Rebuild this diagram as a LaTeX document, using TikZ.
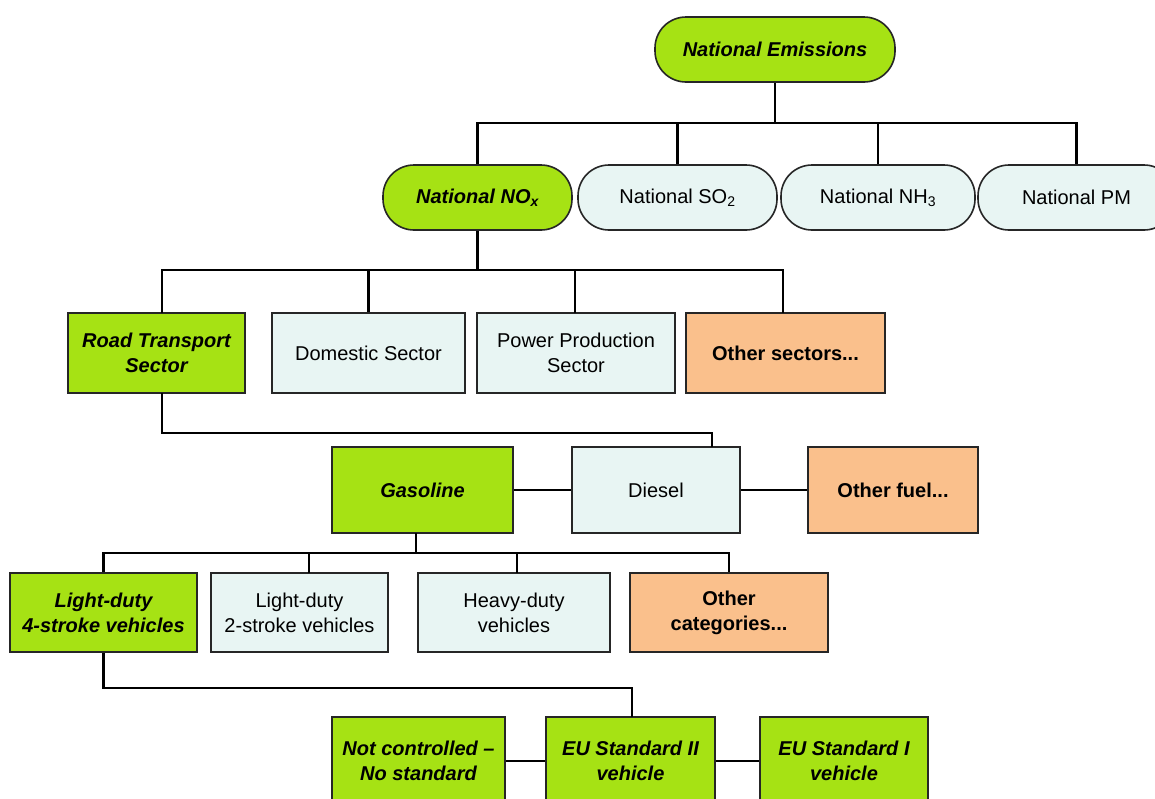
\documentclass[tikz,border=0pt]{standalone}
\usepackage{fontspec}
\setmainfont{Liberation Sans}
\definecolor{gr}{RGB}{166,226,20}
\definecolor{lb}{RGB}{232,245,243}
\definecolor{og}{RGB}{250,192,140}
\begin{document}
\begin{tikzpicture}[x=1pt,y=-1pt,
  base/.style={draw=black!85,line width=1.6pt,align=center,inner sep=0pt,
    font=\fontsize{20}{25}\selectfont,text=black},
  pill/.style={base,rounded corners=31pt,minimum height=65pt},
  rbox/.style={base,minimum height=80pt},
  gbox/.style={fill=gr,font=\fontsize{20}{25}\selectfont\bfseries\itshape},
  lbox/.style={fill=lb},
  obox/.style={fill=og,font=\fontsize{20}{25}\selectfont\bfseries},
  conn/.style={line width=2.4pt,black}]
\clip (0,0) rectangle (1155,798);
\fill[white] (0,0) rectangle (1155,798);
% row 1
\node[pill,gbox,minimum width=240pt] (ne) at (775,49.5) {National Emissions};
% row 2
\node[pill,gbox,minimum width=189pt] (nox) at (477.5,197.5) {National NO\textsubscript{\itshape x}};
\node[pill,lbox,minimum width=199pt] (so2) at (677.5,197.5) {National SO\textsubscript{2}};
\node[pill,lbox,minimum width=194pt] (nh3) at (878,197.5) {National NH\textsubscript{3}};
\node[pill,lbox,minimum width=197pt] (pm) at (1076.5,197.5) {National PM};
% row 3
\node[rbox,gbox,minimum width=177pt] (road) at (156.5,353) {Road Transport\\Sector};
\node[rbox,lbox,minimum width=193pt] (dom) at (368.5,353) {Domestic Sector};
\node[rbox,lbox,minimum width=198pt] (pow) at (576,353) {Power Production\\Sector};
\node[rbox,obox,minimum width=199pt] (oths) at (785.5,353) {Other sectors...};
% row 4
\node[rbox,gbox,minimum width=181pt,minimum height=86pt] (gas) at (422.5,490) {Gasoline};
\node[rbox,lbox,minimum width=168pt,minimum height=86pt] (dies) at (656,490) {Diesel};
\node[rbox,obox,minimum width=170pt,minimum height=86pt] (othf) at (893,490) {Other fuel...};
% row 5
\node[rbox,gbox,minimum width=187pt,minimum height=79pt] (ld4) at (103.5,612.5) {Light-duty\\4-stroke vehicles};
\node[rbox,lbox,minimum width=177pt,minimum height=79pt] (ld2) at (299.5,612.5) {Light-duty\\2-stroke vehicles};
\node[rbox,lbox,minimum width=192pt,minimum height=79pt] (hd) at (514,612.5) {Heavy-duty\\vehicles};
\node[rbox,obox,minimum width=198pt,minimum height=79pt] (oc) at (729,612.5) {Other\\categories...};
% row 6
\node[rbox,gbox,minimum width=173pt,minimum height=88pt] (nc) at (418.5,761) {Not controlled --\\No standard};
\node[rbox,gbox,minimum width=169pt,minimum height=88pt] (eu2) at (630.5,761) {EU Standard II\\vehicle};
\node[rbox,gbox,minimum width=168pt,minimum height=88pt] (eu1) at (844,761) {EU Standard I\\vehicle};
% connectors
\coordinate (b1) at (775,123);
\draw[conn] (ne.south) -- (b1);
\draw[conn] (nox.north) |- (b1) -| (pm.north);
\draw[conn] (so2.north) -- (so2.north |- b1);
\draw[conn] (nh3.north) -- (nh3.north |- b1);
\coordinate (b2) at (477.5,270);
\draw[conn] (nox.south) -- (b2);
\draw[conn] (162,313) |- (b2) -| (783,313);
\draw[conn] (dom.north) -- (dom.north |- b2);
\draw[conn] (575,313) -- (575,270);
\coordinate (b3) at (162,433);
\draw[conn] (162,393) -- (b3) -| (712,447);
\draw[conn] (gas.east) -- (dies.west);
\draw[conn] (dies.east) -- (othf.west);
\coordinate (b4) at (416,553);
\draw[conn] (416,533) -- (b4);
\draw[conn] (ld4.north) |- (b4) -| (oc.north);
\draw[conn] (309,573) -- (309,553);
\draw[conn] (517,573) -- (517,553);
\coordinate (b5) at (103.5,688);
\draw[conn] (ld4.south) -- (b5) -| (632,717);
\draw[conn] (nc.east) -- (eu2.west);
\draw[conn] (eu2.east) -- (eu1.west);
\end{tikzpicture}
\end{document}
